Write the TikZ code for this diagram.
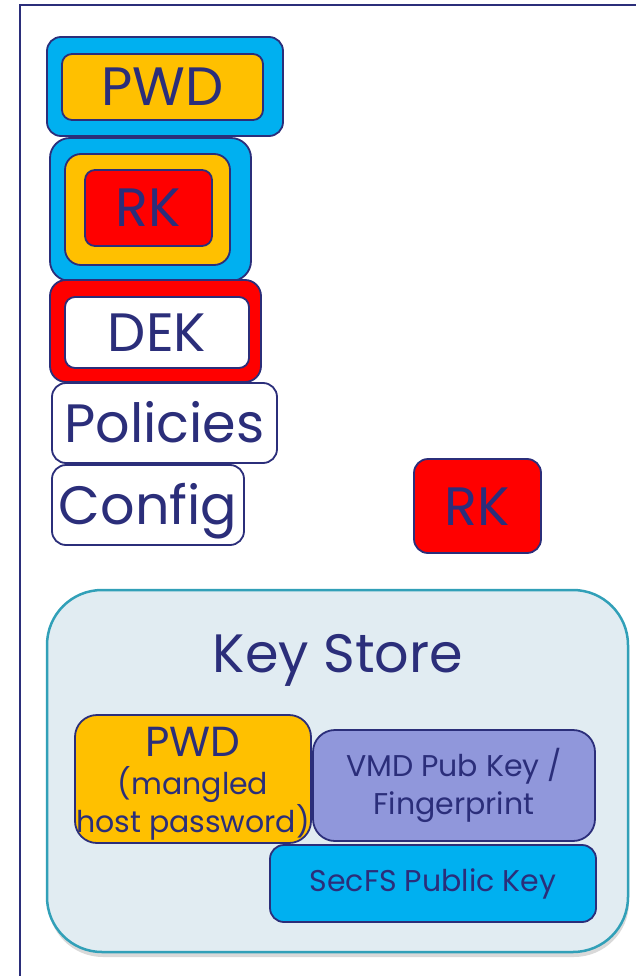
\documentclass[tikz,border=0pt]{standalone}
\usepackage{fontspec}
\setmainfont{Poppins}
\usepackage{tikz}
\usetikzlibrary{shapes, shadows}
\definecolor{navy}{HTML}{2B2E7A}
\definecolor{keyblue}{HTML}{00B0F0}
\definecolor{pwdorange}{HTML}{FFC000}
\definecolor{rkred}{HTML}{FF0000}
\definecolor{storefill}{HTML}{E1ECF2}
\definecolor{storeline}{HTML}{31A0B8}
\definecolor{vmdpurple}{HTML}{9097DB}
\tikzstyle{box} = [draw=navy, line width=1.8pt, rounded corners=14pt, inner sep=0pt, text=navy]
\tikzstyle{big} = [font=\fontsize{54}{58}\selectfont, text height=38pt, text depth=0pt]
\tikzstyle{small} = [font=\fontsize{30}{38}\selectfont, align=center]

\begin{document}
\begin{tikzpicture}[x=1pt, y=-1pt]
			\useasboundingbox (0,0) rectangle (636,976);
			\draw [navy, line width=2.5pt] (636,5) -- (20,5) -- (20,976);

			\node [box, fill=keyblue, minimum width=236pt, minimum height=99pt] (pwdout) at (165,86.5) {};
			\node [box, big, fill=pwdorange, minimum width=201pt, minimum height=66pt, rounded corners=10pt] (pwd) at (162.5,87) {PWD};

			\node [box, fill=keyblue, minimum width=201pt, minimum height=143pt, rounded corners=20pt] (rkout) at (150.5,209.5) {};
			\node [box, fill=pwdorange, minimum width=165pt, minimum height=111pt, rounded corners=16pt] (rkmid) at (147.5,209.5) {};
			\node [box, big, fill=rkred, minimum width=127pt, minimum height=76pt, rounded corners=10pt] (rk) at (148.5,208) {RK};

			\node [box, fill=rkred, minimum width=211pt, minimum height=102pt, rounded corners=16pt] (dekout) at (155.5,331) {};
			\node [box, big, fill=white, minimum width=184pt, minimum height=71pt, rounded corners=10pt] (dek) at (157,332.5) {DEK};

			\node [box, big, fill=white, minimum width=225pt, minimum height=80pt] (policies) at (164.5,423) {Policies};
			\node [box, big, fill=white, minimum width=192pt, minimum height=80pt] (config) at (148,505) {Config};

			\node [box, big, fill=rkred, minimum width=127pt, minimum height=94pt] (rkfree) at (477.5,506) {RK};

			\node [draw=storeline, line width=2.5pt, fill=storefill, rounded corners=55pt, minimum width=581pt, minimum height=362pt, drop shadow={shadow xshift=1pt, shadow yshift=-5pt, opacity=0.3}] (store) at (337.5,771) {};
			\node [big, text=navy] (storetitle) at (338,653) {Key Store};

			\node [box, small, fill=pwdorange, minimum width=236pt, minimum height=128pt, rounded corners=22pt] (storepwd) at (193,779) {{\fontsize{42}{44}\selectfont\rule{0pt}{39pt}PWD}\\(mangled\\host password)};
			\node [box, small, fill=vmdpurple, minimum width=282pt, minimum height=111pt, rounded corners=22pt] (vmd) at (454,785.5) {VMD Pub Key /\\Fingerprint};
			\node [box, small, fill=keyblue, minimum width=326pt, minimum height=77pt, rounded corners=14pt] (secfs) at (433,883.5) {SecFS Public Key};
		\end{tikzpicture}
\end{document}
